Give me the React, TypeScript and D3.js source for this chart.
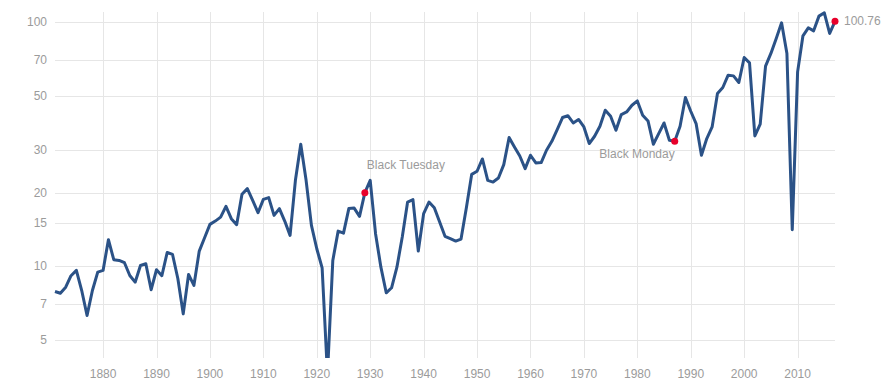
import React from 'react';
import * as d3 from 'd3';

// annual values, 1871 - 2017
const startYear = 1871;
const values = [
  7.87, 7.74, 8.19, 9.13, 9.6, 7.94, 6.27, 7.94, 9.45, 9.6,
  12.83, 10.62, 10.55, 10.32, 9.15, 8.59, 10.06, 10.22, 8.0, 9.66,
  9.13, 11.37, 11.16, 8.87, 6.37, 9.24, 8.33, 11.52, 13.07, 14.82,
  15.29, 15.88, 17.57, 15.64, 14.78, 19.68, 20.77, 18.6, 16.55, 18.77,
  19.08, 16.14, 17.2, 15.29, 13.36, 22.46, 31.57, 22.46, 14.68, 11.78,
  9.84, 3.6, 10.55, 13.91, 13.65, 17.2, 17.29, 15.99, 20.0, 22.46,
  13.58, 9.9, 7.77, 8.15, 9.9, 13.15, 18.3, 18.72, 11.52, 16.4,
  18.3, 17.35, 15.15, 13.24, 12.95, 12.66, 12.9, 17.35, 23.77, 24.47,
  27.48, 22.46, 22.1, 22.96, 26.06, 33.63, 30.78, 28.27, 25.09, 28.46,
  26.46, 26.55, 29.83, 32.48, 36.27, 40.63, 41.33, 38.6, 39.9, 37.17,
  31.78, 34.05, 37.42, 43.53, 41.14, 36.03, 41.8, 42.83, 45.63, 47.53,
  41.53, 39.34, 31.57, 34.93, 38.6, 32.78, 32.48, 37.42, 49.1, 43.12,
  38.38, 28.46, 33.32, 37.17, 50.98, 53.95, 60.6, 60.2, 56.56, 71.63,
  68.08, 34.15, 38.14, 65.98, 74.4, 85.75, 99.3, 74.4, 14.1, 62.52,
  87.85, 94.76, 92.1, 105.8, 109.2, 89.86, 100.76,
];
const years = values.map((_, i) => startYear + i);

const yTicks = [5, 7, 10, 15, 20, 30, 50, 70, 100];
const xTicks = [1880, 1890, 1900, 1910, 1920, 1930, 1940, 1950, 1960, 1970, 1980, 1990, 2000, 2010];

const events = [
  { year: 1929, label: 'Black Tuesday' },
  { year: 1987, label: 'Black Monday' },
];

const W = 890;
const H = 384;
const margin = { top: 12, right: 55, bottom: 26, left: 55 };
const font = '"Liberation Sans", Arial, sans-serif';
const textColor = '#9b9b9b';
const gridColor = '#e6e6e6';
const lineColor = '#2b5287';
const dotColor = '#e8002b';

export default function App() {
  const x = d3.scaleLinear()
    .domain([startYear, years[years.length - 1]])
    .range([margin.left, W - margin.right]);
  const y = d3.scaleLog()
    .domain([4.2, 110])
    .range([H - margin.bottom, margin.top]);

  const line = d3.line<number>()
    .x((_, i) => x(years[i]))
    .y(d => y(d));

  const valueAt = (yr: number) => values[yr - startYear];
  const lastYear = years[years.length - 1];
  const lastVal = values[values.length - 1];

  return (
    <div style={{ position: 'absolute', left: 0, top: 0 }}>
      <svg width={W} height={H} style={{ display: 'block', background: '#fff' }}>
        <defs>
          <clipPath id="plot-clip">
            <rect x={margin.left - 5} y={margin.top - 3} width={W - margin.left - margin.right + 10}
              height={H - margin.top - margin.bottom + 3} />
          </clipPath>
        </defs>

        {/* grid */}
        {yTicks.map(t => (
          <line key={'gy' + t} x1={margin.left} x2={W - margin.right} y1={Math.round(y(t)) + 0.5}
            y2={Math.round(y(t)) + 0.5} stroke={gridColor} strokeWidth={1} />
        ))}
        {xTicks.map(t => (
          <line key={'gx' + t} x1={Math.round(x(t)) + 0.5} x2={Math.round(x(t)) + 0.5} y1={margin.top}
            y2={H - margin.bottom} stroke={gridColor} strokeWidth={1} />
        ))}

        {/* axis labels */}
        {yTicks.map(t => (
          <text key={'ly' + t} x={margin.left - 8} y={y(t)} dy="0.35em" textAnchor="end"
            fontFamily={font} fontSize={12} fill={textColor}>{t}</text>
        ))}
        {xTicks.map(t => (
          <text key={'lx' + t} x={x(t)} y={H - 6} textAnchor="middle"
            fontFamily={font} fontSize={12} fill={textColor}>{t}</text>
        ))}

        {/* series */}
        <path d={line(values) || ''} fill="none" stroke={lineColor} strokeWidth={3}
          strokeLinejoin="round" clipPath="url(#plot-clip)" />

        {/* events */}
        {events.map((e, i) => (
          <g key={e.label}>
            <circle cx={x(e.year)} cy={y(valueAt(e.year))} r={3.5} fill={dotColor} />
            <text x={i === 0 ? x(e.year) + 2 : x(e.year)} y={i === 0 ? y(valueAt(e.year)) - 24 : y(valueAt(e.year)) + 17}
              textAnchor={i === 0 ? 'start' : 'end'} fontFamily={font} fontSize={12} fill={textColor}>{e.label}</text>
          </g>
        ))}

        <circle cx={x(lastYear)} cy={y(lastVal)} r={3.5} fill={dotColor} />
        <text x={x(lastYear) + 9} y={y(lastVal)} dy="0.35em" fontFamily={font} fontSize={12}
          fill={textColor}>{lastVal}</text>
      </svg>
    </div>
  );
}
